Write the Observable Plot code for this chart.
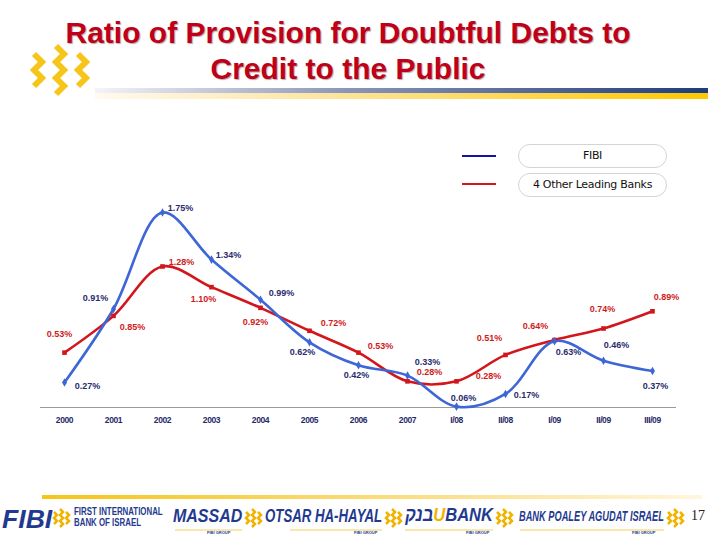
<!DOCTYPE html>
<html>
<head>
<meta charset="utf-8">
<script src="https://cdn.jsdelivr.net/npm/d3@7"></script>
<script src="https://cdn.jsdelivr.net/npm/@observablehq/plot@0.6"></script>
<style>
  html, body { margin: 0; padding: 0; background: #fff; }
  #page { position: relative; width: 720px; height: 540px; overflow: hidden; font-family: "Liberation Sans", Arial, sans-serif; }
  .title { position: absolute; left: 0; width: 696px; text-align: center; color: #c00018; font-weight: bold; font-size: 30px; text-shadow: 1px 1px 1px rgba(120,120,120,0.6); white-space: nowrap; }
  .legbox { position: absolute; left: 518px; width: 147px; height: 22px; border: 1px solid #d4d4d4; border-radius: 12px; text-align: center; line-height: 22px; font-size: 11px; color: #111; font-family: "DejaVu Sans", Verdana, sans-serif; letter-spacing: -0.3px; }
  .legline { position: absolute; left: 462px; width: 34px; height: 2px; }
  #chart { position: absolute; left: 0; top: 198px; }
  .logo { position: absolute; color: #1f3a8f; font-weight: bold; font-style: italic; white-space: nowrap; transform-origin: 0 0; font-family: "Liberation Sans", sans-serif; }
  .sub { position: absolute; font-size: 4px; color: #1f3a8f; font-weight: bold; font-family: "Liberation Sans", sans-serif; }
</style>
</head>
<body>
<div id="page">
  <!-- header chevron logo -->
  <svg style="position:absolute;left:0;top:0" width="120" height="110">
    <g fill="none" stroke="#f7c51a" stroke-width="6" stroke-linejoin="miter">
      <polyline points="34,54 42,62 34,70 42,78 34,86"/>
      <polyline points="56,46 64,54 56,62 64,70 56,78 64,86 56,94"/>
      <polyline points="78,54 86,62 78,70 86,78 78,86"/>
    </g>
  </svg>
  <svg style="position:absolute;left:0;top:0" width="720" height="110">
    <defs>
      <linearGradient id="gb" x1="0" x2="1"><stop offset="0" stop-color="#f4f4f8"/><stop offset="0.4" stop-color="#8d97b8"/><stop offset="1" stop-color="#1e3c7e"/></linearGradient>
      <linearGradient id="gy" x1="0" x2="1"><stop offset="0" stop-color="#fffaf0"/><stop offset="0.4" stop-color="#fde49a"/><stop offset="1" stop-color="#ffc800"/></linearGradient>
    </defs>
    <rect x="95" y="88" width="613" height="5" fill="url(#gb)"/>
    <rect x="95" y="93" width="613" height="6" fill="url(#gy)"/>
  </svg>
  <div class="title" style="top:16px">Ratio of Provision for Doubtful Debts to</div>
  <div class="title" style="top:52px">Credit to the Public</div>

  <!-- legend -->
  <div class="legline" style="top:155px;background:#1414a0"></div>
  <div class="legline" style="top:183px;background:#d01a1a"></div>
  <div class="legbox" style="top:144px" id="leg0"></div>
  <div class="legbox" style="top:173px" id="leg1"></div>

  <div id="chart"></div>

  <!-- footer -->
  <svg style="position:absolute;left:0;top:490px" width="720" height="50">
    <defs>
      <linearGradient id="gf" x1="0" x2="1"><stop offset="0" stop-color="#f5c518"/><stop offset="0.6" stop-color="#fbe08a"/><stop offset="1" stop-color="#fff6dc"/></linearGradient>
    </defs>
    <rect x="42" y="5" width="660" height="4" fill="url(#gf)"/>
    <g fill="none" stroke="#f0b400" stroke-width="2.5">
      <polyline points="54,22 57,25 54,28 57,31 54,34"/>
      <polyline points="60,19 63,22 60,25 63,28 60,31 63,34 60,37"/>
      <polyline points="66,22 69,25 66,28 69,31 66,34"/>
      <polyline points="246,22 249,25 246,28 249,31 246,34"/>
      <polyline points="252,19 255,22 252,25 255,28 252,31 255,34 252,37"/>
      <polyline points="258,22 261,25 258,28 261,31 258,34"/>
      <polyline points="386,22 389,25 386,28 389,31 386,34"/>
      <polyline points="392,19 395,22 392,25 395,28 392,31 395,34 392,37"/>
      <polyline points="398,22 401,25 398,28 401,31 398,34"/>
      <polyline points="497,22 500,25 497,28 500,31 497,34"/>
      <polyline points="503,19 506,22 503,25 506,28 503,31 506,34 503,37"/>
      <polyline points="509,22 512,25 509,28 512,31 509,34"/>
      <polyline points="668,22 671,25 668,28 671,31 668,34"/>
      <polyline points="674,19 677,22 674,25 677,28 674,31 677,34 674,37"/>
      <polyline points="680,22 683,25 680,28 683,31 680,34"/>
    </g>
    <g stroke="#f2c230" stroke-width="0.8">
      <line x1="175" y1="40" x2="242" y2="40"/>
      <line x1="290" y1="40" x2="382" y2="40"/>
      <line x1="405" y1="40" x2="493" y2="40"/>
      <line x1="520" y1="40" x2="664" y2="40"/>
    </g>
  </svg>
  <div class="logo fit" data-w="50" style="left:2px;top:505px;font-size:25px;">FIBI</div>
  <div class="logo fit" data-w="89" style="left:74px;top:507px;font-size:10px;line-height:10.5px;font-style:normal;">FIRST INTERNATIONAL<br>BANK OF ISRAEL</div>
  <div class="logo fit" data-w="69" style="left:173px;top:505px;font-size:19px;">MASSAD</div>
  <div class="logo fit" data-w="117" style="left:265px;top:505px;font-size:19px;">OTSAR HA-HAYAL</div>
  <div class="logo fit" data-w="88" style="left:405px;top:504px;font-size:19px;">בנק<span style="color:#f0b400">U</span>BANK</div>
  <div class="logo fit" data-w="145" style="left:519px;top:507px;font-size:15px;">BANK POALEY AGUDAT ISRAEL</div>
  <div class="sub" style="left:207px;top:530px">FIBI GROUP</div>
  <div class="sub" style="left:354px;top:530px">FIBI GROUP</div>
  <div class="sub" style="left:466px;top:530px">FIBI GROUP</div>
  <div class="sub" style="left:632px;top:530px">FIBI GROUP</div>
  <div style="position:absolute;left:691px;top:508px;font-family:'Liberation Serif',serif;font-size:14px;color:#222;">17</div>
</div>

<script>
// ---- data ----
const categories = ["2000","2001","2002","2003","2004","2005","2006","2007","I/08","II/08","I/09","II/09","III/09"];
const fibi   = [0.27, 0.91, 1.75, 1.34, 0.99, 0.62, 0.42, 0.33, 0.06, 0.17, 0.63, 0.46, 0.37];
const others = [0.53, 0.85, 1.28, 1.10, 0.92, 0.72, 0.53, 0.28, 0.28, 0.51, 0.64, 0.74, 0.89];
const seriesNames = ["FIBI", "4 Other Leading Banks"];

// label placement offsets (pixels, relative to each point)
const fibiLabelOffset   = [[23,4],[-18,-11],[18,-4],[17,-4],[21,-7],[-7,10],[-2,10],[20,-13],[7,-8],[21,1],[14,11],[13,-16],[3,15]];
const othersLabelOffset = [[-5,-19],[19,11],[19,-4],[-8,12],[-5,14],[24,-8],[22,-7],[22,-9],[32,-5],[-16,-17],[-19,-14],[-1,-19],[14,-14]];

document.getElementById("leg0").textContent = seriesNames[0];
document.getElementById("leg1").textContent = seriesNames[1];

// fit footer logo texts to their widths
document.querySelectorAll(".fit").forEach(el => {
  const w = el.scrollWidth;
  const target = +el.dataset.w;
  if (w > 0) el.style.transform = `scaleX(${target / w})`;
});

const fibiData = categories.map((c, i) => ({cat: c, v: fibi[i]}));
const otherData = categories.map((c, i) => ({cat: c, v: others[i]}));

const BLUE = "#3d66d6", RED = "#d3161c", BLUE_TXT = "#2a2d6e", RED_TXT = "#d01b1b";
const fmt = v => v.toFixed(2) + "%";
const labelStyle = {fontSize: 9, fontWeight: "bold", fontFamily: "'Liberation Sans', Arial, sans-serif"};

const labelMarks = [];
fibiData.forEach((d, i) => labelMarks.push(Plot.text([d], {x: "cat", y: "v", text: d => fmt(d.v), dx: fibiLabelOffset[i][0], dy: fibiLabelOffset[i][1], fill: BLUE_TXT, ...labelStyle})));
otherData.forEach((d, i) => labelMarks.push(Plot.text([d], {x: "cat", y: "v", text: d => fmt(d.v), dx: othersLabelOffset[i][0], dy: othersLabelOffset[i][1], fill: RED_TXT, ...labelStyle})));

const chart = Plot.plot({
  width: 720,
  height: 242,
  marginLeft: 40,
  marginRight: 45,
  marginTop: 0,
  marginBottom: 33,
  style: {background: "transparent", overflow: "visible"},
  x: {type: "point", domain: categories, range: [64, 652], padding: 0},
  y: {domain: [0, 1.75], range: [215, 14], axis: null},
  marks: [
    Plot.frame({anchor: "bottom", stroke: "#9a9a9a"}),
    Plot.axisX({tickSize: 0, tickPadding: 9, fontSize: 8.5, fontWeight: "bold", fill: "#1f2a6b", fontFamily: "'Liberation Sans Narrow', Arial, sans-serif", label: null}),
    Plot.line(otherData, {x: "cat", y: "v", stroke: RED, strokeWidth: 2.6, curve: "catmull-rom"}),
    Plot.line(fibiData, {x: "cat", y: "v", stroke: BLUE, strokeWidth: 2.6, curve: "catmull-rom"}),
    Plot.dot(otherData, {x: "cat", y: "v", symbol: "square", r: 2.6, fill: RED}),
    Plot.dot(fibiData, {x: "cat", y: "v", symbol: "diamond", r: 2.6, fill: BLUE}),
    ...labelMarks
  ]
});
chart.querySelectorAll('g[aria-label="x-axis tick label"] text').forEach(t => t.setAttribute("letter-spacing", "-0.4"));
document.getElementById("chart").appendChild(chart);
</script>
</body>
</html>
